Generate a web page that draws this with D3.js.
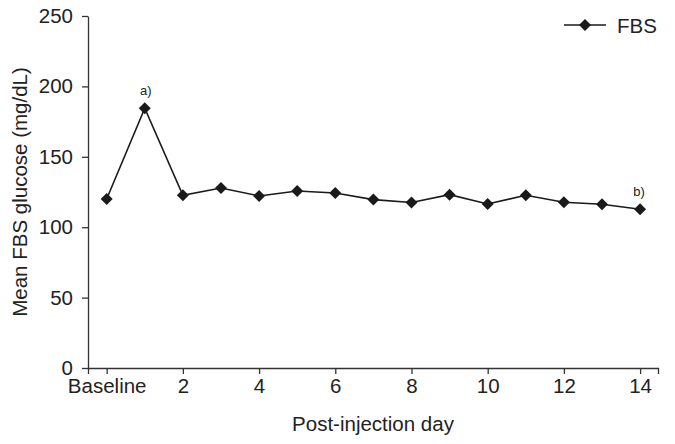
<!DOCTYPE html>
<html>
<head>
<meta charset="utf-8">
<script src="https://cdn.jsdelivr.net/npm/d3@7"></script>
<style>
  html, body { margin: 0; padding: 0; background: #fff; }
  svg { display: block; }
  text { font-family: "Liberation Sans", Arial, sans-serif; fill: #222; }
</style>
</head>
<body>
<svg id="chart" width="675" height="444"></svg>
<script>
const days = [0, 1, 2, 3, 4, 5, 6, 7, 8, 9, 10, 11, 12, 13, 14];
const fbsValues = [120, 184.5, 122.7, 127.8, 122.2, 125.7, 124.3, 119.6, 117.5, 123.1, 116.5, 122.7, 117.7, 116.3, 112.8];
const xTickValues = [0, 2, 4, 6, 8, 10, 12, 14];
const xTickLabels = ["Baseline", "2", "4", "6", "8", "10", "12", "14"];
const yTickValues = [0, 50, 100, 150, 200, 250];
const annotations = [{ day: 1, label: "a)" }, { day: 14, label: "b)" }];
const seriesName = "FBS";

const svg = d3.select("#chart");
const margin = { left: 88, right: 17, top: 16, bottom: 76 };
const W = 675, H = 444;
const fs = "20.5px";

const x = d3.scaleLinear().domain([-0.49, 14.47]).range([margin.left, W - margin.right]);
const y = d3.scaleLinear().domain([0, 250]).range([H - margin.bottom, margin.top]);

const axisColor = "#333";

// Y axis
const yAxis = svg.append("g")
  .attr("transform", `translate(${margin.left},0)`)
  .call(d3.axisLeft(y).tickValues(yTickValues).tickSize(6).tickSizeOuter(0).tickPadding(9));
yAxis.select(".domain").attr("stroke", axisColor).attr("stroke-width", 1.3);
yAxis.selectAll(".tick line").attr("stroke", axisColor).attr("stroke-width", 1.3);
yAxis.selectAll(".tick text").style("font-size", fs).attr("fill", "#222")
  .style("font-family", "'Liberation Sans', Arial, sans-serif");

// X axis
const xAxis = svg.append("g")
  .attr("transform", `translate(0,${y(0)})`)
  .call(d3.axisBottom(x).tickValues(xTickValues).tickFormat((d, i) => xTickLabels[i]).tickSize(6).tickSizeOuter(6).tickPadding(4));
xAxis.select(".domain").attr("stroke", axisColor).attr("stroke-width", 1.3);
xAxis.selectAll(".tick line").attr("stroke", axisColor).attr("stroke-width", 1.3);
xAxis.selectAll(".tick text").style("font-size", fs).attr("fill", "#222")
  .style("font-family", "'Liberation Sans', Arial, sans-serif");

// Line
const data = days.map((d, i) => ({ day: d, v: fbsValues[i] }));
svg.append("path")
  .datum(data)
  .attr("fill", "none")
  .attr("stroke", "#1a1a1a")
  .attr("stroke-width", 1.6)
  .attr("d", d3.line().x(d => x(d.day)).y(d => y(d.v)));

const diamond = d3.symbol().type(d3.symbolSquare).size(72);
svg.append("g").selectAll("path")
  .data(data)
  .join("path")
  .attr("d", diamond)
  .attr("fill", "#1a1a1a")
  .attr("transform", d => `translate(${x(d.day)},${y(d.v)}) rotate(45)`);

// Annotations
svg.append("g").selectAll("text")
  .data(annotations)
  .join("text")
  .attr("x", d => x(d.day) + (d.day === 14 ? -1 : 1))
  .attr("y", d => y(fbsValues[days.indexOf(d.day)]) - 13)
  .attr("text-anchor", "middle")
  .style("font-size", "13px")
  .text(d => d.label);

// Legend
const lg = svg.append("g");
lg.append("line").attr("x1", 564).attr("x2", 606).attr("y1", 25).attr("y2", 25)
  .attr("stroke", "#1a1a1a").attr("stroke-width", 1.6);
lg.append("path").attr("d", diamond).attr("fill", "#1a1a1a")
  .attr("transform", "translate(585,25) rotate(45)");
lg.append("text").attr("x", 617).attr("y", 32.5).style("font-size", fs).text(seriesName);

// Axis titles
svg.append("text")
  .attr("x", (margin.left + W - margin.right) / 2)
  .attr("y", 431)
  .attr("text-anchor", "middle")
  .style("font-size", fs)
  .text("Post-injection day");

svg.append("text")
  .attr("transform", `translate(27,${(y(0) + y(250)) / 2}) rotate(-90)`)
  .attr("text-anchor", "middle")
  .style("font-size", fs)
  .text("Mean FBS glucose (mg/dL)");
</script>
</body>
</html>
